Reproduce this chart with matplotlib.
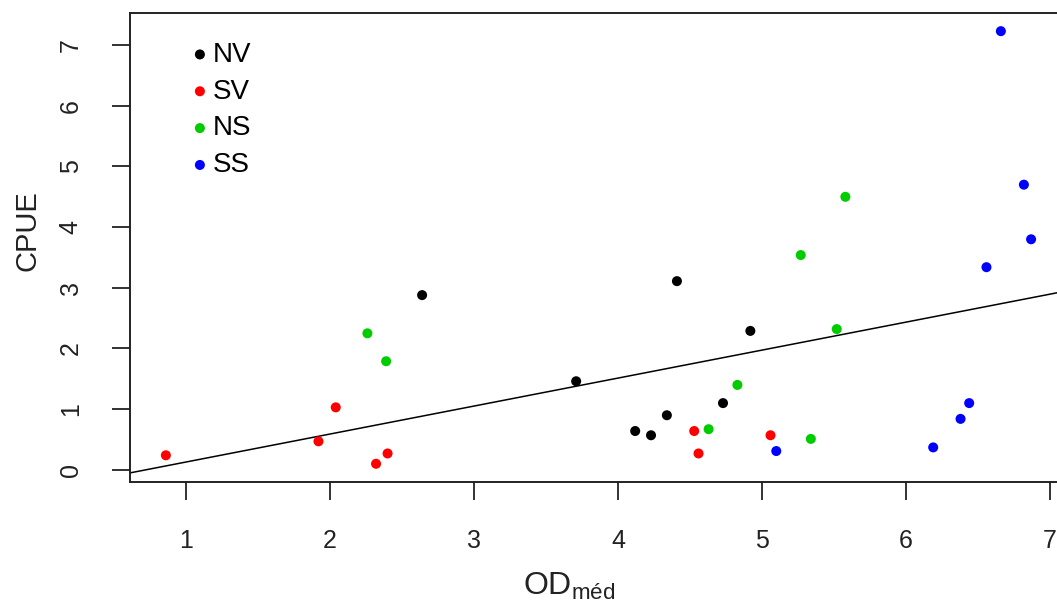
import numpy as np
import matplotlib
matplotlib.use("Agg")
import matplotlib.pyplot as plt

plt.rcParams['font.family'] = ['Liberation Sans', 'DejaVu Sans']
plt.rcParams['mathtext.fontset'] = 'custom'
plt.rcParams['mathtext.rm'] = 'Liberation Sans'

# Groups and their points (OD_med, CPUE)
GROUPS = ["NV", "SV", "NS", "SS"]
COLORS = ["black", "red", "#00CD00", "blue"]

NV_X = [2.64, 4.41, 4.92, 3.71, 4.12, 4.23, 4.34, 4.73]
NV_Y = [2.88, 3.11, 2.29, 1.46, 0.64, 0.57, 0.90, 1.10]

SV_X = [0.86, 1.92, 2.04, 2.32, 2.40, 4.53, 4.56, 5.06]
SV_Y = [0.24, 0.47, 1.03, 0.10, 0.27, 0.64, 0.27, 0.57]

NS_X = [2.26, 2.39, 4.63, 4.83, 5.27, 5.58, 5.52, 5.34]
NS_Y = [2.25, 1.79, 0.67, 1.40, 3.54, 4.50, 2.32, 0.51]

SS_X = [5.10, 6.66, 6.82, 6.87, 6.56, 6.44, 6.38, 6.19]
SS_Y = [0.31, 7.23, 4.70, 3.80, 3.34, 1.10, 0.84, 0.37]

# regression line (intercept, slope)
FIT_A = -0.332
FIT_B = 0.461

XTICKS = [1, 2, 3, 4, 5, 6, 7]
YTICKS = [0, 1, 2, 3, 4, 5, 6, 7]

fig = plt.figure(figsize=(10.57, 6.03), dpi=100)
ax = fig.add_axes([0.123, 0.2007, 0.877, 0.7778])

xs = [NV_X, SV_X, NS_X, SS_X]
ys = [NV_Y, SV_Y, NS_Y, SS_Y]
for name, col, x, y in zip(GROUPS, COLORS, xs, ys):
    ax.scatter(x, y, s=52, color=col, edgecolors='none', label=name, zorder=3)

ax.axline((0, FIT_A), slope=FIT_B, color='black', lw=1.1, zorder=2)

ax.set_xlim(0.611, 7.05)
ax.set_ylim(-0.2, 7.53)
ax.set_xticks(XTICKS)
ax.set_yticks(YTICKS)
ax.tick_params(axis='both', direction='out', length=13, width=1.3,
               pad=21, labelsize=18, colors='#222222')
for lab in ax.get_yticklabels():
    lab.set_rotation(90)
    lab.set_va('center')
ax.spines['right'].set_visible(False)
for s in ['left', 'bottom', 'top']:
    ax.spines[s].set_linewidth(1.4)
    ax.spines[s].set_color('#222222')

ax.set_xlabel(r'OD$_{\mathregular{méd}}$', fontsize=23, color='#222222')
ax.set_ylabel('CPUE', fontsize=21, color='#222222')
ax.xaxis.set_label_coords(0.474, -0.188)
ax.yaxis.set_label_coords(-0.096, 0.535)

ax.legend(loc='upper left', bbox_to_anchor=(0.0619, 0.9505), frameon=False,
          fontsize=20, handlelength=0.5, handletextpad=0.22,
          labelspacing=0.39, borderpad=0.2, borderaxespad=0)

fig.savefig("out.png", dpi=100)
